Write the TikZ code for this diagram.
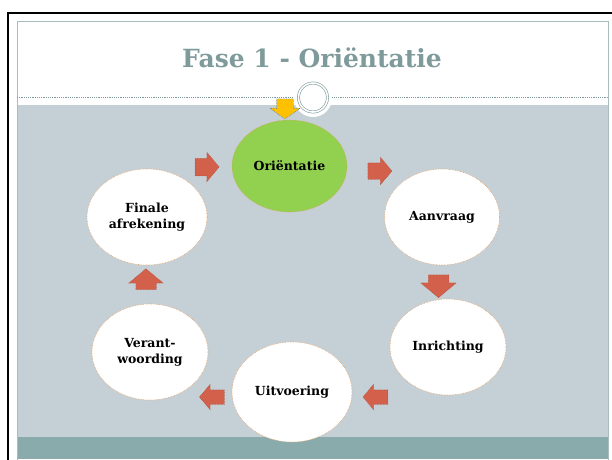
\documentclass[tikz,border=0pt]{standalone}
\usepackage{fontspec}
\setmainfont{DejaVu Serif}
\usetikzlibrary{shapes.geometric,shapes.arrows}
\definecolor{slidegray}{RGB}{197,208,214}
\definecolor{bandteal}{RGB}{138,171,171}
\definecolor{titlecol}{RGB}{127,154,154}
\definecolor{framecol}{RGB}{168,188,192}
\definecolor{greenfill}{RGB}{146,208,80}
\definecolor{arrowred}{RGB}{210,96,74}
\definecolor{arrowredd}{RGB}{170,70,52}
\definecolor{orangeb}{RGB}{228,160,100}
\definecolor{yellowa}{RGB}{255,192,0}
\definecolor{bluedot}{RGB}{70,130,190}
\tikzset{
  stepell/.style={ellipse, draw=orangeb, densely dotted, line width=0.6pt, fill=white,
    inner sep=0pt, font=\bfseries\fontsize{12.5}{16}\selectfont, align=center, text=black},
  redarrow/.style={single arrow, fill=arrowred, draw=arrowredd, densely dotted, line width=0.5pt,
    single arrow tip angle=100, inner xsep=0pt},
}
\begin{document}
\begin{tikzpicture}[x=1pt,y=-1pt]
\useasboundingbox (0,0) rectangle (612,459);
\fill[white] (0,0) rectangle (612,459);
% slide areas
\fill[slidegray] (17,105) rectangle (608,437);
\fill[bandteal] (17,437) rectangle (608,459);
\draw[framecol, line width=0.8pt] (17,470) -- (17,21) -- (608,21) -- (608,470);
% black frame
\draw[black, line width=2.5pt] (8,470) -- (8,13) -- (614,13);
% title
\node[font=\bfseries\fontsize{25}{30}\selectfont, text=titlecol] (title) at (312,58) {Fase 1 - Oriëntatie};
% dashed line
\draw[titlecol, line width=0.6pt, dash pattern=on 1.2pt off 1pt] (17,97) -- (608,97);
% ornament
\fill[white] (313,98) circle (19);
\node[circle, draw=titlecol, double=white, double distance=1.6pt, line width=0.6pt, minimum size=29pt, inner sep=0pt, fill=white] (orn) at (313,97.5) {};
% yellow arrow
\node[single arrow, fill=yellowa, draw=bluedot, densely dotted, line width=0.6pt, inner xsep=0pt, inner ysep=8pt,
  single arrow tip angle=110, single arrow head extend=7pt, minimum height=20pt,
  rotate=-90] (ya) at (285,106) {};
% ellipses
\node[stepell, fill=greenfill, minimum width=115pt, minimum height=92pt] (ori) at (289.5,166) {Oriëntatie};
\node[stepell, minimum width=115pt, minimum height=96pt] (aan) at (442,217) {Aanvraag};
\node[stepell, minimum width=116pt, minimum height=96pt] (inr) at (448,347) {Inrichting};
\node[stepell, minimum width=120pt, minimum height=100pt] (uit) at (292,392) {Uitvoering};
\node[stepell, minimum width=116pt, minimum height=96pt] (ver) at (150,352) {Verant-\\woording};
\node[stepell, minimum width=120pt, minimum height=96pt] (fin) at (147,217) {Finale\\afrekening};
% red block arrows
\node[redarrow, inner ysep=8.5pt, single arrow head extend=6pt, minimum height=24pt] (a1) at (203.5,167) {};
\node[redarrow, inner ysep=8pt, single arrow head extend=5.5pt, minimum height=24pt] (a2) at (376.5,171) {};
\node[redarrow, inner ysep=10pt, single arrow head extend=7.5pt, minimum height=23pt, rotate=-90] (a3) at (438.5,282) {};
\node[redarrow, inner ysep=7pt, single arrow head extend=5.5pt, minimum height=25pt, rotate=180] (a4) at (378.5,397) {};
\node[redarrow, inner ysep=7pt, single arrow head extend=5.5pt, minimum height=25pt, rotate=180] (a5) at (215,397) {};
\node[redarrow, inner ysep=10pt, single arrow head extend=7pt, minimum height=21pt, rotate=90] (a6) at (146,283.5) {};
\end{tikzpicture}
\end{document}
